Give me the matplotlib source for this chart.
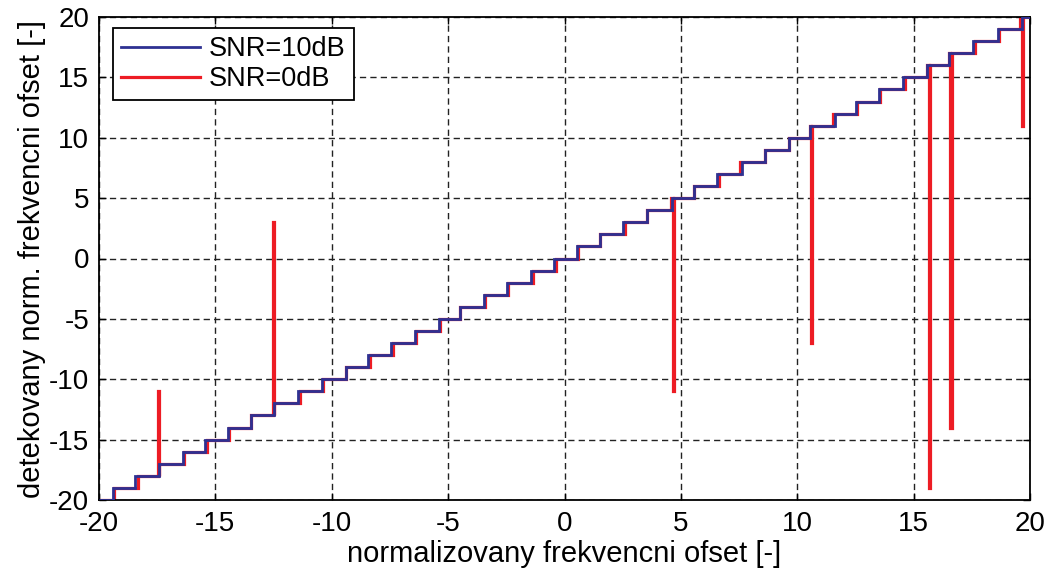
import numpy as np
import matplotlib
matplotlib.use("Agg")
import matplotlib.pyplot as plt
from matplotlib.lines import Line2D

# ---- data ----
levels = list(range(-20, 21))  # detected offset levels

# x where each level from -19 .. 20 starts (SNR=10dB)
blue_edges = [-19.38, -18.45, -17.41, -16.38, -15.45, -14.44, -13.47, -12.47,
              -11.46, -10.43, -9.39, -8.43, -7.45, -6.44, -5.38, -4.49,
              -3.46, -2.46, -1.45, -0.45, 0.55, 1.52, 2.53, 3.53,
              4.60, 5.56, 6.54, 7.63, 8.60, 9.66, 10.56, 11.62,
              12.54, 13.53, 14.56, 15.56, 16.53, 17.54, 18.64, 19.64]

# x where each level from -19 .. 20 starts (SNR=0dB)
red_edges = [-19.36, -18.34, -17.41, -16.36, -15.38, -14.42, -13.45, -12.47,
             -11.38, -10.36, -9.37, -8.35, -7.37, -6.40, -5.36, -4.47,
             -3.40, -2.44, -1.37, -0.37, 0.60, 1.54, 2.62, 3.55,
             4.58, 5.58, 6.62, 7.55, 8.62, 9.64, 10.56, 11.54,
             12.56, 13.55, 14.62, 15.58, 16.54, 17.62, 18.66, 19.58]

# SNR=0dB outliers: x position and detected value
spike_x = [-17.46, -12.53, 4.66, 10.60, 15.64, 16.58, 19.64]
spike_y = [-11, 3, -11, -7, -19, -14, 11]

x_ticks = [-20, -15, -10, -5, 0, 5, 10, 15, 20]
y_ticks = [-20, -15, -10, -5, 0, 5, 10, 15, 20]

blue_col = "#2E3192"
red_col = "#ED1C24"
spike_w = 0.05

# ---- build stairs ----
b_edges = [-20.0] + blue_edges + [20.0]
b_vals = list(levels)

r_edges = [-20.0] + red_edges + [20.0]
r_vals = list(levels)
for sx, sy in zip(spike_x, spike_y):
    for i in range(len(r_vals)):
        if r_edges[i] <= sx < r_edges[i + 1]:
            end = min(sx + spike_w, r_edges[i + 1])
            base = r_vals[i]
            r_edges = r_edges[:i + 1] + [sx, end] + r_edges[i + 1:]
            r_vals = r_vals[:i] + [base, sy, base] + r_vals[i + 1:]
            break

plt.rcParams['font.family'] = ['Liberation Sans', 'DejaVu Sans']
plt.rcParams['axes.unicode_minus'] = False

FS_TICK = 20
FS_LAB = 21
FS_LEG = 19.5

fig = plt.figure(figsize=(10.48, 5.72), dpi=100)
ax = fig.add_axes([99 / 1048, 1 - 500 / 572, (1030 - 99) / 1048, (500 - 17) / 572])

ax.stairs(r_vals, r_edges, color=red_col, linewidth=2.3, baseline=None, zorder=2)
ax.stairs(b_vals, b_edges, color=blue_col, linewidth=2.0, baseline=None, zorder=3)

ax.set_xlim(-20, 20)
ax.set_ylim(-20, 20)
ax.set_xticks(x_ticks)
ax.set_yticks(y_ticks)
ax.tick_params(direction='in', top=True, right=True, length=5, width=1.0,
               labelsize=FS_TICK)
ax.tick_params(axis='x', pad=8)
ax.tick_params(axis='y', pad=7)
ax.set_axisbelow(True)
ax.grid(True, color="#222222", linestyle=(0, (4.5, 3)), linewidth=1.0)
for s in ax.spines.values():
    s.set_linewidth(1.3)

ax.set_xlabel("normalizovany frekvencni ofset [-]", fontsize=FS_LAB, labelpad=2)
ax.set_ylabel("detekovany norm. frekvencni ofset [-]", fontsize=FS_LAB, labelpad=2)

h = [Line2D([], [], color=blue_col, lw=2.0), Line2D([], [], color=red_col, lw=2.3)]
leg = ax.legend(h, ["SNR=10dB", "SNR=0dB"], loc="upper left",
                bbox_to_anchor=(0.015, 0.977), fontsize=FS_LEG, fancybox=False,
                framealpha=1, edgecolor="black", borderpad=0.3,
                handlelength=2.9, handletextpad=0.35, labelspacing=0.15,
                borderaxespad=0)
leg.get_frame().set_linewidth(1.3)

fig.savefig("out.png", dpi=100)
